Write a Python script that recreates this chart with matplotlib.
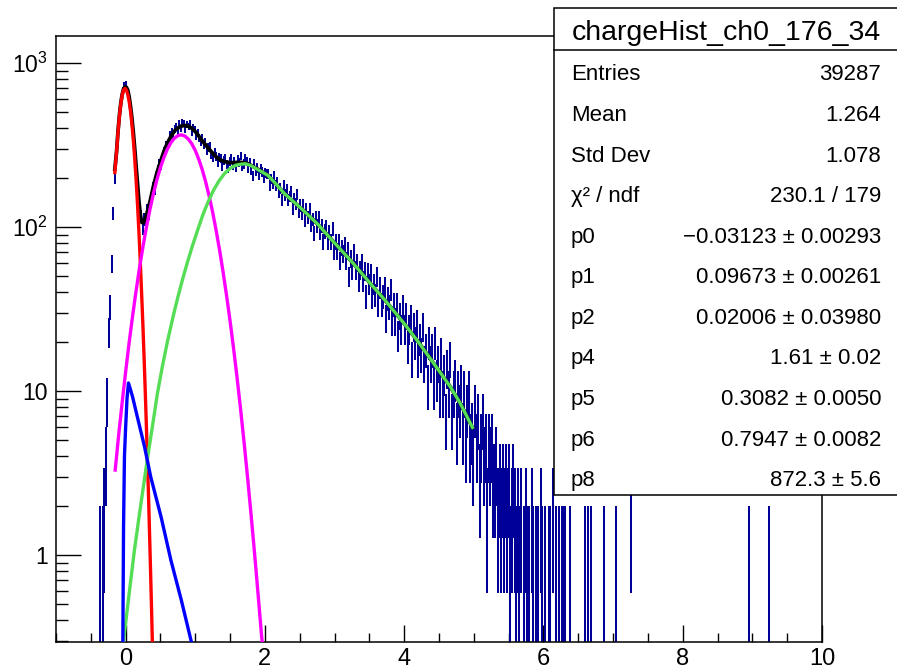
import numpy as np
import matplotlib
matplotlib.use('Agg')
import matplotlib.pyplot as plt
from matplotlib.patches import Rectangle
from matplotlib.lines import Line2D
from matplotlib.ticker import FixedLocator, FixedFormatter, NullFormatter

plt.rcParams['font.family'] = ['Liberation Sans', 'DejaVu Sans']
plt.rcParams['mathtext.fontset'] = 'custom'
plt.rcParams['mathtext.rm'] = 'Liberation Sans'
plt.rcParams['mathtext.it'] = 'Liberation Sans:italic'

# ---------------- data ----------------
hist_title = "chargeHist_ch0_176_34"
hist_range = (-1.0, 10.0)
n_bins = 500
first_center = -0.417
main_counts = [
    0, 0, 1, 0, 1, 2, 4, 9, 23, 33, 60, 122, 198,
    300, 372, 505, 571, 690, 738, 752, 676, 618, 571, 452, 395, 283, 241, 167, 150, 116, 100,
    112, 104, 127, 121, 133, 160, 176, 171, 190, 225, 246, 239, 260, 291, 318, 305, 322, 366,
    381, 356, 397, 411, 382, 426, 398, 437, 430, 395, 421, 409, 428, 379, 404, 392, 360, 378,
    349, 330, 351, 318, 330, 291, 306, 312, 277, 265, 286, 270, 248, 266, 261, 236, 255, 262,
    240, 228, 251, 262, 238, 253, 231, 258, 249, 272, 236, 243, 264, 251, 229, 247, 222, 205,
    243, 219, 230, 208, 226, 217, 199, 214, 212,
    212, 180, 197, 183, 206, 180, 187, 163, 173, 146, 179, 157, 169, 146, 154, 165, 129, 149,
    139, 158, 124, 136, 121, 137, 111, 128, 115, 128, 104, 112, 92, 115, 102, 115, 93, 102,
    82, 94, 100, 81, 93, 82, 98, 71, 82, 71, 82, 63, 75, 69, 78, 63, 73, 50, 64, 55, 70, 55,
    61, 47, 55, 61, 47, 54, 38, 53, 45, 52, 38, 45, 39, 50, 34, 43, 34, 38, 43, 28, 37, 33,
    42, 27, 34, 27, 34, 22, 29, 24, 33, 24, 29, 19, 24, 28, 16, 25, 20, 26, 16, 21, 17, 25,
    15, 18, 11, 20, 15, 18, 11, 20, 12, 15, 10, 17, 10, 13, 7, 14, 10, 16, 7, 10, 12, 6, 10,
    8, 11, 6, 10, 5, 8, 10, 5, 6, 4, 8, 5, 7, 3, 5, 7, 4, 5, 2, 5, 4, 5, 3, 3, 4, 2, 3, 2, 3,
    2, 3, 2, 3, 1, 2, 3, 2, 1, 2, 1, 2, 0, 1, 2, 1, 1, 0, 2, 1, 0, 1, 1, 0, 2, 1, 0, 1, 0, 1,
    1, 0, 2, 0, 1, 0, 1, 0, 1, 1, 1, 0, 0, 1, 0, 0, 0, 0, 0, 0, 0, 0, 0,
]
tail_centers = [6.601, 6.645, 6.689, 6.865, 7.041, 7.261, 8.955, 9.241]
tail_counts = [1, 1, 1, 1, 1, 2, 1, 1]

# fit components
red_x = [-0.155, -0.13, -0.11, -0.09, -0.07, -0.05, -0.03, -0.01, 0.01, 0.03, 0.05, 0.07,
         0.09, 0.11, 0.13, 0.15, 0.17, 0.19, 0.21, 0.23, 0.25, 0.27, 0.29, 0.31, 0.33, 0.35,
         0.37, 0.39]
red_y = [215, 288, 377, 471, 560, 634, 683, 700, 686, 646, 585, 508, 425, 341, 263, 195,
         139, 95, 62, 39, 24, 13.9, 7.8, 4.2, 2.2, 1.07, 0.51, 0.23]

mag_x = [-0.15, -0.1, -0.05, 0.0, 0.05, 0.1, 0.15, 0.2, 0.25, 0.3, 0.35, 0.4, 0.45, 0.5,
         0.55, 0.6, 0.65, 0.7, 0.75, 0.8, 0.85, 0.9, 0.95, 1.0, 1.05, 1.1, 1.15, 1.2, 1.25,
         1.3, 1.35, 1.4, 1.45, 1.5, 1.55, 1.6, 1.65, 1.7, 1.75, 1.8, 1.85, 1.9, 1.95, 1.97]
mag_y = [3.3, 5.4, 8.5, 13.1, 19.7, 28.7, 40.8, 56.7, 76.5, 100.5, 128.7, 160.5, 195, 231,
         266, 299, 327, 348, 361, 365, 359, 344, 322, 293, 259, 224, 188, 154, 123, 95, 72,
         53, 38, 26.7, 18.2, 12.1, 7.8, 4.9, 3.0, 1.79, 1.04, 0.59, 0.33, 0.27]

green_x = [-0.03, 0.05, 0.126, 0.2, 0.31, 0.38, 0.455, 0.53, 0.6, 0.68, 0.75, 0.82, 0.89,
           0.96, 1.04, 1.11, 1.18, 1.26, 1.34, 1.42, 1.5, 1.58, 1.66, 1.72, 1.8, 1.9, 2.04,
           2.15, 2.28, 2.52, 2.76, 3.0, 3.24, 3.5, 3.72, 4.0, 4.2, 4.5, 4.67, 4.8, 4.98]
green_y = [0.3, 0.58, 1.07, 1.8, 3.8, 5.9, 9.6, 14.3, 20, 28.3, 37.4, 48.5, 61.5, 77, 97.5,
           119, 141, 167, 191, 212, 228, 238, 242, 243, 237, 224, 207, 185, 160, 130, 104,
           80, 62, 46, 36, 25.8, 20, 13.3, 10.5, 8.5, 6.0]

blue_x = [-0.04, -0.03, -0.017, 0.0, 0.02, 0.04, 0.07, 0.10, 0.17, 0.27, 0.36, 0.51, 0.65,
          0.80, 0.94]
blue_y = [0.3, 1.5, 4.0, 6.0, 9.0, 11.2, 10.2, 9.2, 6.9, 4.6, 3.0, 1.7, 0.93, 0.53, 0.3]

black_x = [-0.155, -0.13, -0.11, -0.09, -0.07, -0.05, -0.03, -0.01, 0.01, 0.03, 0.05, 0.07,
           0.09, 0.11, 0.13, 0.15, 0.17, 0.19, 0.21, 0.23, 0.25, 0.27, 0.29, 0.31, 0.35, 0.4,
           0.45, 0.5, 0.55, 0.6, 0.65, 0.7, 0.75, 0.8, 0.85, 0.9, 0.95, 1.0, 1.05, 1.1, 1.15,
           1.2, 1.25, 1.3, 1.35, 1.4, 1.45, 1.5, 1.55, 1.6, 1.65, 1.7, 1.75, 1.8, 1.9, 2.04,
           2.15, 2.28, 2.52, 2.76, 3.0, 3.24, 3.5, 3.72, 4.0, 4.2, 4.5, 4.67, 4.8, 4.98]
black_y = [225, 290, 382, 478, 568, 643, 694, 716, 712, 685, 624, 545, 462, 380, 303, 237,
           186, 145, 120, 107, 106, 109, 115, 123, 143, 178, 215, 250, 290, 325, 357, 385,
           402, 413, 416, 412, 400, 382, 359, 336, 316, 298, 282, 268, 258, 252, 249, 247,
           247, 248, 248, 247, 244, 238, 225, 207, 185, 160, 130, 104, 80, 62, 46, 36, 25.8,
           20, 13.3, 10.5, 8.5, 6.0]

stats_labels = ["Entries", "Mean", "Std Dev", "\u03c7\u00b2 / ndf", "p0", "p1", "p2", "p4",
                "p5", "p6", "p8"]
stats_values = ["39287", "1.264", "1.078", "230.1 / 179",
                "\u22120.03123 \u00b1 0.00293", "0.09673 \u00b1 0.00261",
                "0.02006 \u00b1 0.03980", "1.61 \u00b1 0.02", "0.3082 \u00b1 0.0050",
                "0.7947 \u00b1 0.0082", "872.3 \u00b1 5.6"]

# ---------------- build histogram ----------------
edges = np.linspace(hist_range[0], hist_range[1], n_bins + 1)
width = edges[1] - edges[0]
centers = 0.5 * (edges[:-1] + edges[1:])
counts = np.zeros(n_bins)
start = int(np.floor((first_center - hist_range[0]) / width))
counts[start:start + len(main_counts)] = main_counts
for xc, c in zip(tail_centers, tail_counts):
    counts[int(np.floor((xc - hist_range[0]) / width))] = c

W, H = 897, 671
fig = plt.figure(figsize=(W / 100, H / 100), dpi=100)
fig.patch.set_facecolor('white')
L, R, T, B = 56, 822, 36, 642
ax = fig.add_axes([L / W, (H - B) / H, (R - L) / W, (B - T) / H])
ax.set_yscale('log')
ax.set_xlim(hist_range)
ax.set_ylim(0.295, 1462)

m = counts > 0
x = centers[m]
y = counts[m]
err = np.sqrt(y)
lo = np.where(y - err > 0, err, y - 1e-4)
ax.errorbar(x, y, yerr=[lo, err], xerr=width / 2, fmt='none', ecolor='#000099',
            elinewidth=1.45, capsize=0, zorder=2)

lw = 2.4
ax.plot(black_x, black_y, color='black', lw=lw + 0.3, zorder=3)
ax.plot(red_x, red_y, color='#ff0000', lw=lw, zorder=4)
ax.plot(mag_x, mag_y, color='#ff00ff', lw=lw, zorder=4)
ax.plot(green_x, green_y, color='#55dd55', lw=lw, zorder=5)
ax.plot(blue_x, blue_y, color='#0000ff', lw=lw, zorder=6)

# ticks
ax.xaxis.set_major_locator(FixedLocator([0, 2, 4, 6, 8, 10]))
ax.xaxis.set_minor_locator(FixedLocator(np.arange(-1.0, 10.01, 0.5)))
ax.yaxis.set_major_locator(FixedLocator([1, 10, 100, 1000]))
ax.yaxis.set_major_formatter(FixedFormatter(['1', '10', r'$\mathregular{10^{2}}$',
                                             r'$\mathregular{10^{3}}$']))
minors = [k * 10.0 ** e for e in range(-1, 4) for k in range(2, 10)]
ax.yaxis.set_minor_locator(FixedLocator(minors))
ax.yaxis.set_minor_formatter(NullFormatter())
ax.tick_params(axis='x', which='major', direction='in', length=12, width=1.0,
               labelsize=17, pad=4, top=False)
ax.tick_params(axis='x', which='minor', direction='in', length=6.5, width=1.0, top=False)
ax.tick_params(axis='y', which='major', direction='in', length=18, width=1.0,
               labelsize=16.5, pad=6, right=False)
ax.tick_params(axis='y', which='minor', direction='in', length=8.6, width=1.0, right=False)
for s in ax.spines.values():
    s.set_linewidth(1.1)
    s.set_color('black')

# ---------------- stats box ----------------
def fx(px):
    return px / W

def fy(py):
    return (H - py) / H

box_l, box_t, box_r, box_b = 554, 8, 905, 495
fig.add_artist(Rectangle((fx(box_l), fy(box_b)), fx(box_r) - fx(box_l),
                         fy(box_t) - fy(box_b), transform=fig.transFigure,
                         facecolor='white', edgecolor='black', lw=1.1, zorder=10))
fig.add_artist(Line2D([fx(box_l), fx(box_r)], [fy(50), fy(50)], transform=fig.transFigure,
                      color='black', lw=1.1, zorder=11))
fig.text(fx(726), fy(40), hist_title, ha='center', va='baseline', fontsize=20.5,
         zorder=12)
row_y0, row_dy = 80.5, 40.57
for k, (lab, val) in enumerate(zip(stats_labels, stats_values)):
    yy = fy(row_y0 + k * row_dy)
    fig.text(fx(571), yy, lab, ha='left', va='baseline', fontsize=16, zorder=12)
    fig.text(fx(881), yy, val, ha='right', va='baseline', fontsize=16, zorder=12)

fig.savefig('out.png', dpi=100)
